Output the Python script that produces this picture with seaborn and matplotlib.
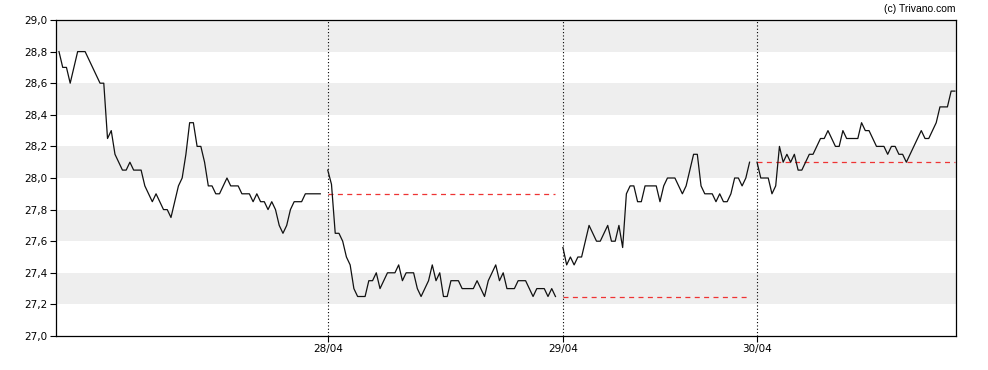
import numpy as np
import pandas as pd
import matplotlib
matplotlib.use("Agg")
import matplotlib.pyplot as plt
import seaborn as sns

# Cours intraday, un point par pas de temps
jour1 = [28.8, 28.7, 28.7, 28.6, 28.7, 28.8, 28.8, 28.8, 28.75, 28.7, 28.65, 28.6, 28.6,
         28.25, 28.3, 28.15, 28.1, 28.05, 28.05, 28.1, 28.05, 28.05, 28.05, 27.95, 27.9,
         27.85, 27.9, 27.85, 27.8, 27.8, 27.75, 27.85, 27.95, 28.0, 28.15, 28.35, 28.35,
         28.2, 28.2, 28.1, 27.95, 27.95, 27.9, 27.9, 27.95, 28.0, 27.95, 27.95, 27.95,
         27.9, 27.9, 27.9, 27.85, 27.9, 27.85, 27.85, 27.8, 27.85, 27.8, 27.7, 27.65,
         27.7, 27.8, 27.85, 27.85, 27.85, 27.9, 27.9, 27.9, 27.9, 27.9]
jour2 = [28.05, 27.96, 27.65, 27.65, 27.6, 27.5, 27.45, 27.3, 27.25, 27.25, 27.25, 27.35,
         27.35, 27.4, 27.3, 27.35, 27.4, 27.4, 27.4, 27.45, 27.35, 27.4, 27.4, 27.4, 27.3,
         27.25, 27.3, 27.35, 27.45, 27.35, 27.4, 27.25, 27.25, 27.35, 27.35, 27.35, 27.3,
         27.3, 27.3, 27.3, 27.35, 27.3, 27.25, 27.35, 27.4, 27.45, 27.35, 27.4, 27.3, 27.3,
         27.3, 27.35, 27.35, 27.35, 27.3, 27.25, 27.3, 27.3, 27.3, 27.25, 27.3, 27.25]
jour3 = [27.56, 27.45, 27.5, 27.45, 27.5, 27.5, 27.6, 27.7, 27.65, 27.6, 27.6, 27.65, 27.7,
         27.6, 27.6, 27.7, 27.56, 27.9, 27.95, 27.95, 27.85, 27.85, 27.95, 27.95, 27.95,
         27.95, 27.85, 27.95, 28.0, 28.0, 28.0, 27.95, 27.9, 27.95, 28.05, 28.15, 28.15,
         27.95, 27.9, 27.9, 27.9, 27.85, 27.9, 27.85, 27.85, 27.9, 28.0, 28.0, 27.95, 28.0,
         28.1]
jour4 = [28.1, 28.0, 28.0, 28.0, 27.9, 27.95, 28.2, 28.1, 28.15, 28.1, 28.15, 28.05, 28.05,
         28.1, 28.15, 28.15, 28.2, 28.25, 28.25, 28.3, 28.25, 28.2, 28.2, 28.3, 28.25, 28.25,
         28.25, 28.25, 28.35, 28.3, 28.3, 28.25, 28.2, 28.2, 28.2, 28.15, 28.2, 28.2, 28.15,
         28.15, 28.1, 28.15, 28.2, 28.25, 28.3, 28.25, 28.25, 28.3, 28.35, 28.45, 28.45,
         28.45, 28.55, 28.55]
jours = [jour1, jour2, jour3, jour4]
etiquettes = ["", "28/04", "29/04", "30/04"]
y_ticks = [27.0, 27.2, 27.4, 27.6, 27.8, 28.0, 28.2, 28.4, 28.6, 28.8, 29.0]

# Construction du tableau (un pas vide de 2 entre deux séances)
rows = []
debuts = []
pos = 0
for j, vals in enumerate(jours):
    debuts.append(pos)
    for v in vals:
        rows.append({"x": pos, "cours": v, "jour": j})
        pos += 1
    pos += 1
df = pd.DataFrame(rows)

fig = plt.figure(figsize=(9.88, 3.7), dpi=100)
ax = fig.add_axes([56 / 988, 34 / 370, 900 / 988, 316 / 370])
plt.rcParams['font.family'] = ['Liberation Sans', 'DejaVu Sans']

# Bandes grises alternées
for lo in [27.2, 27.6, 28.0, 28.4, 28.8]:
    ax.axhspan(lo, lo + 0.2, color="#eeeeee", zorder=0, lw=0)

sns.lineplot(data=df, x="x", y="cours", units="jour", estimator=None,
             color="#111111", lw=0.9, ax=ax, zorder=3)

# Clôture de la veille
for j in range(1, 4):
    d = df[df.jour == j]
    ax.plot([d.x.min(), d.x.max()], [jours[j - 1][-1]] * 2, color="#ee3333",
            ls=(0, (4, 3.5)), lw=0.9, zorder=2)
    ax.axvline(debuts[j], color="black", ls=(0, (1, 2)), lw=0.8, zorder=1)

ax.set_xlim(-0.8, df.x.max() + 0.3)
ax.set_ylim(27.0, 29.0)
ax.set_yticks(y_ticks)
ax.set_yticklabels([f"{t:.1f}".replace(".", ",") for t in y_ticks], fontsize=7.5)
ax.set_xticks(debuts[1:])
ax.set_xticklabels(etiquettes[1:], fontsize=7.5)
ax.tick_params(length=4, width=0.8, color="black", pad=2)
ax.set_xlabel("")
ax.set_ylabel("")
for s in ax.spines.values():
    s.set_color("black")
    s.set_linewidth(0.9)

fig.text(955 / 988, 1 - 9 / 370, "(c) Trivano.com", ha="right", va="center", fontsize=7.5)

fig.savefig("out.png", dpi=100)
